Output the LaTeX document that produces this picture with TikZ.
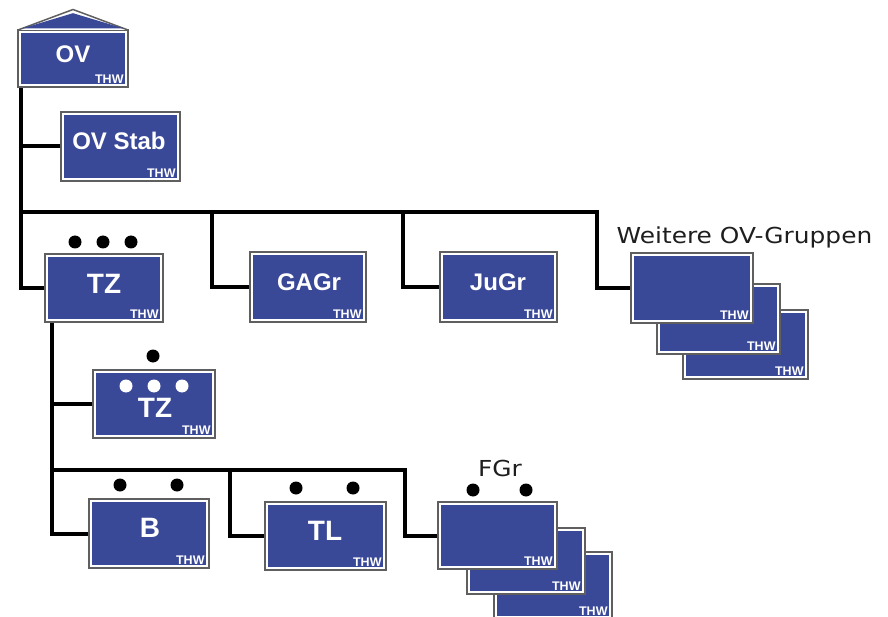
\documentclass[tikz,border=0pt]{standalone}
\usepackage{fontspec}
\usetikzlibrary{backgrounds}
\setmainfont{Liberation Sans}
\newfontfamily\labelfont{DejaVu Sans}
\definecolor{thwblue}{RGB}{58,72,152}
\definecolor{signgray}{RGB}{95,95,95}
\definecolor{txtgray}{RGB}{30,30,30}
\tikzset{
  sign/.style={draw=signgray, line width=1.5pt, fill=white, inner sep=0pt,
    path picture={\fill[thwblue] ([shift={(3.2pt,3.2pt)}]path picture bounding box.south west) rectangle ([shift={(-3.2pt,-3.2pt)}]path picture bounding box.north east);},
    label={[anchor=south east, xshift=-5pt, yshift=4.5pt, inner sep=0pt, text=white, font=\bfseries\fontsize{12.5}{12.5}\selectfont]south east:THW}},
  signtext/.style={text=white, font=\bfseries\fontsize{24}{24}\selectfont, inner sep=0pt},
  bigtext/.style={text=white, font=\bfseries\fontsize{28}{28}\selectfont, inner sep=0pt},
  conn/.style={line width=4pt, black},
  dotb/.style={fill=black},
  dotw/.style={fill=white},
  captext/.style={text=txtgray, font=\labelfont\fontsize{22}{22}\selectfont, inner sep=0pt, xscale=1.13, transform shape},
}
\begin{document}
\begin{tikzpicture}[x=1pt,y=-1pt]
\useasboundingbox (0,0) rectangle (888,617);
% OV
\node[sign, minimum width=110pt, minimum height=57pt] (OV) at (73,58.5) {};
\filldraw[fill=white, draw=signgray, line width=1.5pt, line join=round] (18,30) -- (73,9.5) -- (128,30);
\fill[thwblue] (22,28.5) -- (73,13.2) -- (124,28.5) -- cycle;
\node[signtext] (OVt) at (73,54) {OV};
% OV Stab
\node[sign, minimum width=119pt, minimum height=69pt] (OVStab) at (120.5,146.5) {};
\node[signtext] (OVStabt) at (119,141) {OV Stab};
% TZ
\node[sign, minimum width=118pt, minimum height=68pt] (TZ) at (104,288) {};
\node[bigtext] (TZt) at (104,284) {TZ};
\foreach \x in {75,103,131} \fill[dotb] (\x,242) circle (6.5pt);
% TZ2
\node[sign, minimum width=122pt, minimum height=68pt] (TZ2) at (154,404) {};
\node[bigtext] (TZ2t) at (155,408) {TZ};
\fill[dotb] (153,356) circle (6.5pt);
\foreach \x in {126,154,182} \fill[dotw] (\x,386) circle (6.5pt);
% GAGr, JuGr
\node[sign, minimum width=116pt, minimum height=70pt] (GAGr) at (308,287) {};
\node[signtext] (GAGrt) at (309,282) {GAGr};
\node[sign, minimum width=117pt, minimum height=70pt] (JuGr) at (498.5,287) {};
\node[signtext] (JuGrt) at (498,282) {JuGr};
% Weitere OV-Gruppen stack
\node[sign, minimum width=125pt, minimum height=69pt] (W3) at (745.5,344.5) {};
\node[sign, minimum width=123pt, minimum height=70pt] (W2) at (718.5,319) {};
\node[sign, minimum width=122pt, minimum height=70pt] (W1) at (692,288) {};
\node[captext] (Wlab) at (744.5,237) {Weitere OV-Gruppen};
% B, TL
\node[sign, minimum width=120pt, minimum height=69pt] (B) at (149,533.5) {};
\node[bigtext] (Bt) at (150,528) {B};
\foreach \x in {120,177} \fill[dotb] (\x,485) circle (6.5pt);
\node[sign, minimum width=121pt, minimum height=68pt] (TL) at (325.5,536) {};
\node[bigtext] (TLt) at (325,531) {TL};
\foreach \x in {296,353} \fill[dotb] (\x,488) circle (6.5pt);
% FGr stack
\node[sign, minimum width=118pt, minimum height=67pt] (F3) at (553,585.5) {};
\node[sign, minimum width=118pt, minimum height=66pt] (F2) at (526,561) {};
\node[sign, minimum width=119pt, minimum height=67pt] (F1) at (497.5,535.5) {};
\foreach \x in {473,526} \fill[dotb] (\x,490) circle (6.5pt);
\node[captext] (Flab) at (500,468) {FGr};
% junctions
\coordinate (j0) at ([xshift=4pt]OV.south west |- 0,212);
\coordinate (j1) at (212,212);
\coordinate (j2) at (403,212);
\coordinate (j3) at (597,212);
\coordinate (k0) at ([xshift=8pt]TZ.south west);
\coordinate (k1) at (k0 |- 0,470);
\coordinate (k2) at (230,470);
\coordinate (k3) at (405,470);
% connectors beneath the signs
\begin{pgfonlayer}{background}
\draw[conn] ([xshift=4pt]OV.south west) |- (TZ.west);
\draw[conn] (OVStab.west) -- (OVStab.west -| j0);
\draw[conn] (j0) -- (j3) |- (W1.west);
\draw[conn] (j1) |- (GAGr.west);
\draw[conn] (j2) |- (JuGr.west);
\draw[conn] (k0) |- (B.west);
\draw[conn] (TZ2.west) -- (TZ2.west -| k0);
\draw[conn] (k1) -- (k3) |- (F1.west);
\draw[conn] (k2) |- (TL.west);
\end{pgfonlayer}
\end{tikzpicture}
\end{document}
